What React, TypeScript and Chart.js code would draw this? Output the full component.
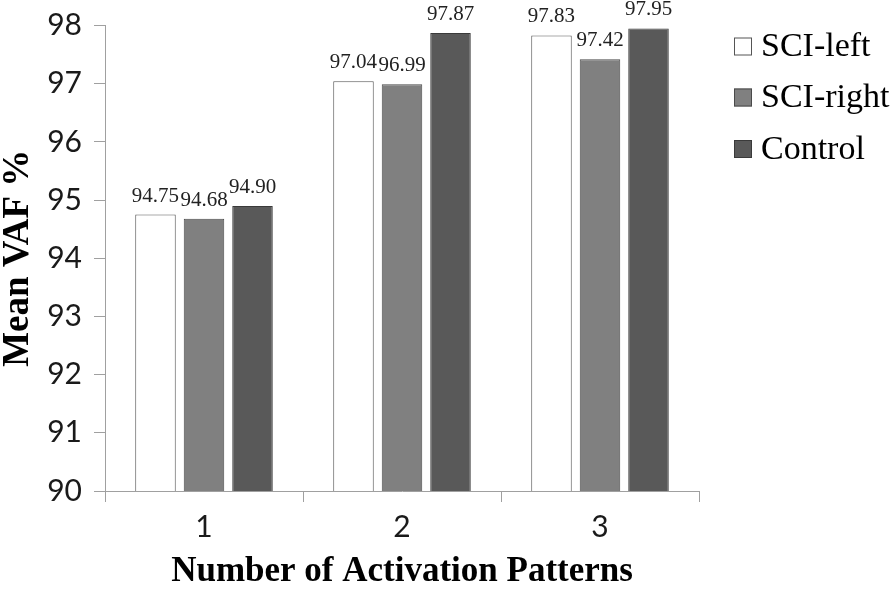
import { useEffect, useRef } from "react";
import { Chart, registerables } from "chart.js";

Chart.register(...registerables);

const categories = ["1", "2", "3"];
const seriesLabels = ["SCI-left", "SCI-right", "Control"];
const sciLeft = [94.75, 97.04, 97.83];
const sciRight = [94.68, 96.99, 97.42];
const control = [94.9, 97.87, 97.95];
const yMin = 90;
const yMax = 98;
const yStep = 1;
const xTitle = "Number of Activation Patterns";
const yTitle = "Mean VAF %";

const fills = ["#ffffff", "#808080", "#595959"];
const borders = ["#555555", "#4a4a4a", "#3a3a3a"];

export default function App() {
  const ref = useRef<HTMLCanvasElement>(null);

  useEffect(() => {
    const canvas = ref.current;
    if (!canvas) return;

    const valueLabels = {
      id: "valueLabels",
      afterDatasetsDraw(chart: any) {
        const ctx = chart.ctx;
        ctx.save();
        ctx.font = '21px "Liberation Serif"';
        ctx.fillStyle = "#222222";
        ctx.textAlign = "center";
        ctx.textBaseline = "alphabetic";
        chart.data.datasets.forEach((ds: any, i: number) => {
          const meta = chart.getDatasetMeta(i);
          meta.data.forEach((el: any, j: number) => {
            ctx.fillText(Number(ds.data[j]).toFixed(2), el.x, el.y - 13);
          });
        });
        ctx.restore();
      },
    };

    const sideLegend = {
      id: "sideLegend",
      afterDraw(chart: any) {
        const ctx = chart.ctx;
        ctx.save();
        const boxX = 734;
        const box = 18;
        const rowY = [46.5, 97.5, 149];
        ctx.font = '34px "Liberation Serif"';
        ctx.textAlign = "left";
        ctx.textBaseline = "middle";
        chart.data.datasets.forEach((ds: any, i: number) => {
          const cy = rowY[i];
          ctx.fillStyle = ds.backgroundColor;
          ctx.fillRect(boxX, cy - box / 2, box, box);
          ctx.strokeStyle = ds.borderColor;
          ctx.lineWidth = 1;
          ctx.strokeRect(boxX + 0.5, cy - box / 2 + 0.5, box - 1, box - 1);
          ctx.fillStyle = "#000000";
          ctx.fillText(ds.label, 761, cy + 1);
        });
        ctx.restore();
      },
    };

    const chart = new Chart(canvas, {
      type: "bar",
      data: {
        labels: categories,
        datasets: [sciLeft, sciRight, control].map((d, i) => ({
          label: seriesLabels[i],
          data: d,
          backgroundColor: fills[i],
          borderColor: borders[i],
          borderWidth: 1,
          categoryPercentage: 0.735,
          barPercentage: 0.835,
        })),
      },
      options: {
        responsive: false,
        animation: false,
        layout: { padding: { top: 10, right: 197, left: 0, bottom: 0 } },
        plugins: {
          legend: { display: false },
          tooltip: { enabled: false },
        },
        scales: {
          x: {
            afterFit(scale: any) {
              scale.height = 98;
            },
            grid: {
              offset: true,
              drawOnChartArea: false,
              drawTicks: true,
              tickLength: 11,
              color: "#a0a0a0",
            },
            border: { color: "#a0a0a0", width: 1 },
            ticks: {
              color: "#1a1a1a",
              padding: 7,
              font: { family: "Lato", size: 30 },
            },
            title: {
              display: true,
              text: xTitle,
              color: "#000000",
              font: { family: "Liberation Serif", size: 35, weight: "bold", lineHeight: 1 },
              padding: { top: 0, bottom: 0 },
            },
          },
          y: {
            min: yMin,
            max: yMax,
            afterFit(scale: any) {
              scale.width = 105;
            },
            grid: {
              drawOnChartArea: false,
              drawTicks: true,
              tickLength: 11,
              color: "#a0a0a0",
            },
            border: { color: "#a0a0a0", width: 1 },
            ticks: {
              stepSize: yStep,
              color: "#1a1a1a",
              padding: 12,
              font: { family: "Lato", size: 30, lineHeight: 0.9 },
            },
            title: {
              display: true,
              text: yTitle,
              color: "#000000",
              font: { family: "Liberation Serif", size: 37, weight: "bold", lineHeight: 1 },
              padding: 0,
            },
          },
        },
      },
      plugins: [valueLabels, sideLegend],
    });

    return () => chart.destroy();
  }, []);

  return (
    <div
      style={{
        position: "absolute",
        left: 0,
        top: 0,
        width: 896,
        height: 589,
        background: "#ffffff",
      }}
    >
      <canvas ref={ref} width={896} height={589} />
    </div>
  );
}
